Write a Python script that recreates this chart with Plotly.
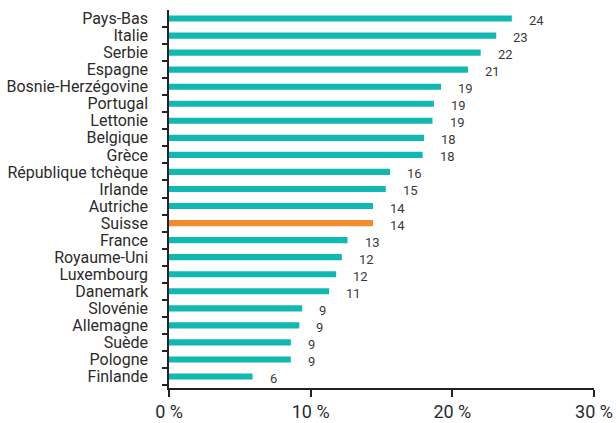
import plotly.graph_objects as go

countries = [
    "Pays-Bas", "Italie", "Serbie", "Espagne", "Bosnie-Herzégovine", "Portugal",
    "Lettonie", "Belgique", "Grèce", "République tchèque", "Irlande", "Autriche",
    "Suisse", "France", "Royaume-Uni", "Luxembourg", "Danemark", "Slovénie",
    "Allemagne", "Suède", "Pologne", "Finlande",
]
shares = [
    24.2, 23.1, 22.0, 21.1, 19.2, 18.7,
    18.6, 18.0, 17.9, 15.6, 15.3, 14.4,
    14.4, 12.6, 12.2, 11.8, 11.3, 9.4,
    9.2, 8.6, 8.6, 5.9,
]
highlight = "Suisse"
x_ticks = [0, 10, 20, 30]
x_tick_labels = ["0 %", "10 %", "20 %", "30 %"]

TEAL = "#0fb8b0"
ORANGE = "#f28a2e"
TEXT = "#2b2b2b"
FONT = "Roboto, sans-serif"

colors = [ORANGE if c == highlight else TEAL for c in countries]

fig = go.Figure()
fig.add_trace(go.Bar(
    x=shares,
    y=countries,
    orientation="h",
    marker=dict(color=colors, line=dict(width=0)),
    width=0.36,
    hoverinfo="skip",
))

# value labels to the right of each bar
for c, v in zip(countries, shares):
    fig.add_annotation(
        x=v, y=c, text=f"{v:.0f}", showarrow=False,
        xanchor="left", yanchor="middle", xshift=15, yshift=-2,
        font=dict(family=FONT, size=13, color="#3a3a3a"),
    )

fig.update_layout(
    width=616, height=423,
    margin=dict(l=169, r=22, t=10, b=35),
    paper_bgcolor="white", plot_bgcolor="white",
    showlegend=False,
    font=dict(family=FONT, color=TEXT, size=16),
)
fig.update_xaxes(
    range=[0, 30], tickmode="array", tickvals=x_ticks, ticktext=x_tick_labels,
    automargin=False,
    showgrid=False, zeroline=False,
    showline=True, linecolor="#222", linewidth=1.5,
    ticks="outside", ticklen=7, tickwidth=1.5, tickcolor="#222",
    tickfont=dict(size=18, color=TEXT),
    ticklabelstandoff=0,
)
fig.update_yaxes(
    categoryorder="array", categoryarray=countries[::-1],
    tickmode="array", tickvals=countries,
    automargin=False,
    showgrid=False, zeroline=False,
    showline=True, linecolor="#222", linewidth=1.5,
    ticks="outside", ticklen=5, tickwidth=1.5, tickcolor="#222",
    tickson="boundaries",
    tickfont=dict(size=16, color=TEXT),
    ticklabelstandoff=16,
)

fig.write_html("out.html")
